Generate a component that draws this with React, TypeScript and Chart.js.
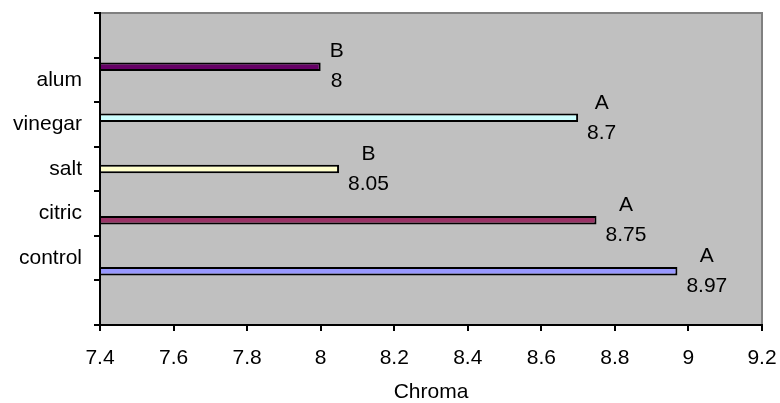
import React, { useEffect, useRef } from "react";
import { Chart, registerables } from "chart.js";

Chart.register(...registerables);

const categories = ["alum", "vinegar", "salt", "citric", "control"];
const values = [8, 8.7, 8.05, 8.75, 8.97];
const groupLetters = ["B", "A", "B", "A", "A"];
const barColors = ["#660066", "#CCFFFF", "#FFFFCC", "#993366", "#9999FF"];
const xMin = 7.4;
const xMax = 9.2;
const xStep = 0.2;
const xTitle = "Chroma";

const FONT = "'Liberation Sans', Arial, sans-serif";
const FONT_SIZE = 21;

const labels = ["", ...categories, ""];

const plotBg = {
  id: "plotBg",
  beforeDraw(chart: any) {
    const { ctx, chartArea: a } = chart;
    ctx.save();
    ctx.fillStyle = "#C0C0C0";
    ctx.fillRect(a.left, a.top, a.right - a.left, a.bottom - a.top);
    ctx.strokeStyle = "#808080";
    ctx.lineWidth = 2;
    ctx.beginPath();
    ctx.moveTo(a.left, a.top);
    ctx.lineTo(a.right, a.top);
    ctx.lineTo(a.right, a.bottom);
    ctx.stroke();
    ctx.restore();
  },
};

const barLabels = {
  id: "barLabels",
  afterDatasetsDraw(chart: any) {
    const { ctx } = chart;
    ctx.save();
    ctx.font = `${FONT_SIZE}px ${FONT}`;
    ctx.fillStyle = "#000";
    ctx.textAlign = "center";
    ctx.textBaseline = "middle";
    categories.forEach((cat, i) => {
      const meta = chart.getDatasetMeta(i);
      const el = meta.data[labels.indexOf(cat)];
      if (!el) return;
      const letter = groupLetters[i];
      const val = String(values[i]);
      const w = Math.max(ctx.measureText(letter).width, ctx.measureText(val).width);
      const cx = el.x + 9 + w / 2;
      ctx.fillText(letter, cx, el.y - 15);
      ctx.fillText(val, cx, el.y + 15);
    });
    ctx.restore();
  },
};

export default function App() {
  const ref = useRef<HTMLCanvasElement>(null);
  useEffect(() => {
    if (!ref.current) return;
    const datasets = categories.map((cat, i) => ({
      label: cat,
      data: labels.map((l) => (l === cat ? values[i] : null)),
      backgroundColor: barColors[i],
      borderColor: "#000",
      borderWidth: 2,
      borderSkipped: "start" as const,
      base: xMin,
      categoryPercentage: 0.74,
      barPercentage: 1.3,
    }));
    const chart = new Chart(ref.current, {
      type: "bar",
      data: { labels, datasets },
      options: {
        indexAxis: "y",
        responsive: false,
        animation: false,
        events: [],
        layout: { padding: { top: 13, right: 18, left: 0, bottom: 0 } },
        plugins: { legend: { display: false }, tooltip: { enabled: false } },
        scales: {
          x: {
            type: "linear",
            min: xMin,
            max: xMax,
            ticks: {
              stepSize: xStep,
              color: "#000",
              font: { family: FONT, size: FONT_SIZE },
              padding: 15,
              maxRotation: 0,
              autoSkip: false,
              callback: (v: any) => String(Math.round(Number(v) * 100) / 100),
            },
            grid: {
              drawOnChartArea: false,
              drawTicks: true,
              tickLength: 6,
              color: "#000",
              lineWidth: 2,
            },
            border: { color: "#000", width: 2 },
            title: {
              display: true,
              text: xTitle,
              color: "#000",
              font: { family: FONT, size: FONT_SIZE, lineHeight: 1 },
              padding: { top: 4, bottom: 0 },
            },
            afterFit: (s: any) => {
              s.height = 78;
              s.paddingLeft = 0;
              s.paddingRight = 0;
              s.paddingTop = 0;
              s.paddingBottom = 0;
            },
          },
          y: {
            type: "category",
            ticks: {
              color: "#000",
              font: { family: FONT, size: FONT_SIZE },
              padding: 12,
              autoSkip: false,
            },
            grid: {
              drawOnChartArea: false,
              drawTicks: true,
              tickLength: 6,
              color: "#000",
              lineWidth: 2,
            },
            border: { color: "#000", width: 2 },
            afterFit: (s: any) => {
              s.width = 100;
              s.paddingLeft = 0;
              s.paddingRight = 0;
              s.paddingTop = 0;
              s.paddingBottom = 0;
            },
          },
        },
      },
      plugins: [plotBg, barLabels],
    });
    return () => chart.destroy();
  }, []);
  return (
    <div style={{ position: "fixed", left: 0, top: 0, width: 780, height: 403, background: "#fff" }}>
      <canvas ref={ref} width={780} height={403} style={{ width: 780, height: 403 }} />
    </div>
  );
}
